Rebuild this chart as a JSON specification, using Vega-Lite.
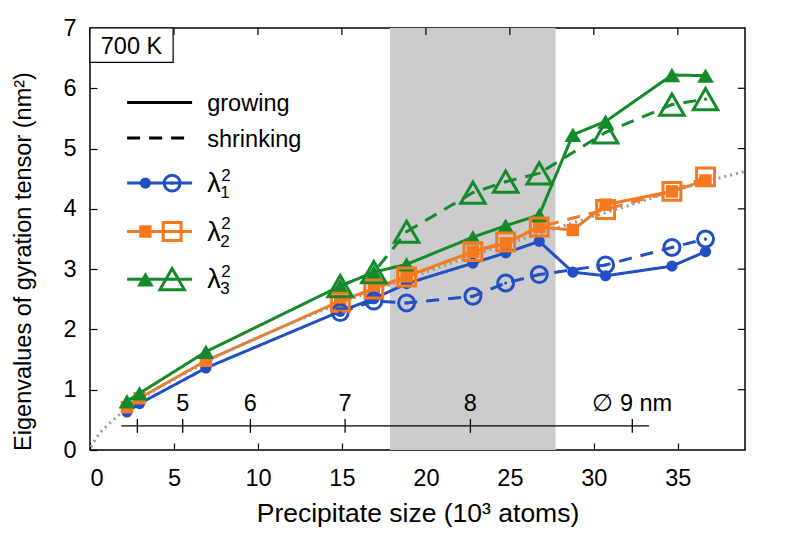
{
  "$schema": "https://vega.github.io/schema/vega-lite/v6.json",
  "width": 655,
  "height": 422,
  "autosize": {"type": "none"},
  "padding": {"left": 90, "top": 28, "right": 44, "bottom": 102},
  "background": "white",
  "config": {
    "font": "Liberation Sans",
    "view": {"stroke": "#000", "strokeWidth": 1.5},
    "axis": {
      "grid": false, "domain": false, "tickColor": "#000", "tickWidth": 1.2, "tickSize": -7, "zindex": 1,
      "labelFontSize": 23.5, "labelColor": "#000", "labelFont": "Liberation Sans",
      "titleFontSize": 23.5, "titleFontWeight": "normal", "titleColor": "#000", "titleFont": "Liberation Sans"
    },
    "text": {"font": "Liberation Sans", "fontSize": 23.5, "color": "#000"}
  },
  "datasets": {
    "series": [
      {"ph": "growing", "ev": "l1", "n": 2.2, "v": 0.63},
      {"ph": "growing", "ev": "l1", "n": 2.95, "v": 0.77},
      {"ph": "growing", "ev": "l1", "n": 6.9, "v": 1.36},
      {"ph": "growing", "ev": "l1", "n": 14.9, "v": 2.3},
      {"ph": "growing", "ev": "l1", "n": 16.9, "v": 2.51},
      {"ph": "growing", "ev": "l1", "n": 18.85, "v": 2.76},
      {"ph": "growing", "ev": "l1", "n": 22.8, "v": 3.1},
      {"ph": "growing", "ev": "l1", "n": 24.75, "v": 3.27},
      {"ph": "growing", "ev": "l1", "n": 26.75, "v": 3.46},
      {"ph": "growing", "ev": "l1", "n": 28.75, "v": 2.95},
      {"ph": "growing", "ev": "l1", "n": 30.7, "v": 2.89},
      {"ph": "growing", "ev": "l1", "n": 34.65, "v": 3.05},
      {"ph": "growing", "ev": "l1", "n": 36.65, "v": 3.29},
      {"ph": "growing", "ev": "l2", "n": 2.2, "v": 0.71},
      {"ph": "growing", "ev": "l2", "n": 2.95, "v": 0.86},
      {"ph": "growing", "ev": "l2", "n": 6.9, "v": 1.48},
      {"ph": "growing", "ev": "l2", "n": 14.9, "v": 2.47},
      {"ph": "growing", "ev": "l2", "n": 16.9, "v": 2.68},
      {"ph": "growing", "ev": "l2", "n": 18.85, "v": 2.88},
      {"ph": "growing", "ev": "l2", "n": 22.8, "v": 3.29},
      {"ph": "growing", "ev": "l2", "n": 24.75, "v": 3.43},
      {"ph": "growing", "ev": "l2", "n": 26.75, "v": 3.7},
      {"ph": "growing", "ev": "l2", "n": 28.75, "v": 3.65},
      {"ph": "growing", "ev": "l2", "n": 30.7, "v": 4.07},
      {"ph": "growing", "ev": "l2", "n": 34.65, "v": 4.29},
      {"ph": "growing", "ev": "l2", "n": 36.65, "v": 4.47},
      {"ph": "growing", "ev": "l3", "n": 2.2, "v": 0.81},
      {"ph": "growing", "ev": "l3", "n": 2.95, "v": 0.94},
      {"ph": "growing", "ev": "l3", "n": 6.9, "v": 1.63},
      {"ph": "growing", "ev": "l3", "n": 14.9, "v": 2.72},
      {"ph": "growing", "ev": "l3", "n": 16.9, "v": 2.95},
      {"ph": "growing", "ev": "l3", "n": 18.85, "v": 3.08},
      {"ph": "growing", "ev": "l3", "n": 22.8, "v": 3.53},
      {"ph": "growing", "ev": "l3", "n": 24.75, "v": 3.72},
      {"ph": "growing", "ev": "l3", "n": 26.75, "v": 3.9},
      {"ph": "growing", "ev": "l3", "n": 28.75, "v": 5.23},
      {"ph": "growing", "ev": "l3", "n": 30.7, "v": 5.45},
      {"ph": "growing", "ev": "l3", "n": 34.65, "v": 6.22},
      {"ph": "growing", "ev": "l3", "n": 36.65, "v": 6.21},
      {"ph": "shrinking", "ev": "l1", "n": 14.9, "v": 2.28},
      {"ph": "shrinking", "ev": "l1", "n": 16.9, "v": 2.47},
      {"ph": "shrinking", "ev": "l1", "n": 18.85, "v": 2.44},
      {"ph": "shrinking", "ev": "l1", "n": 22.8, "v": 2.55},
      {"ph": "shrinking", "ev": "l1", "n": 24.75, "v": 2.77},
      {"ph": "shrinking", "ev": "l1", "n": 26.75, "v": 2.91},
      {"ph": "shrinking", "ev": "l1", "n": 30.7, "v": 3.07},
      {"ph": "shrinking", "ev": "l1", "n": 34.65, "v": 3.36},
      {"ph": "shrinking", "ev": "l1", "n": 36.65, "v": 3.5},
      {"ph": "shrinking", "ev": "l2", "n": 14.9, "v": 2.45},
      {"ph": "shrinking", "ev": "l2", "n": 16.9, "v": 2.67},
      {"ph": "shrinking", "ev": "l2", "n": 18.85, "v": 2.87},
      {"ph": "shrinking", "ev": "l2", "n": 22.8, "v": 3.29},
      {"ph": "shrinking", "ev": "l2", "n": 24.75, "v": 3.45},
      {"ph": "shrinking", "ev": "l2", "n": 26.75, "v": 3.7},
      {"ph": "shrinking", "ev": "l2", "n": 30.7, "v": 3.99},
      {"ph": "shrinking", "ev": "l2", "n": 34.65, "v": 4.29},
      {"ph": "shrinking", "ev": "l2", "n": 36.65, "v": 4.53},
      {"ph": "shrinking", "ev": "l3", "n": 14.9, "v": 2.72},
      {"ph": "shrinking", "ev": "l3", "n": 16.9, "v": 2.95},
      {"ph": "shrinking", "ev": "l3", "n": 18.85, "v": 3.62},
      {"ph": "shrinking", "ev": "l3", "n": 22.8, "v": 4.27},
      {"ph": "shrinking", "ev": "l3", "n": 24.75, "v": 4.45},
      {"ph": "shrinking", "ev": "l3", "n": 26.75, "v": 4.59},
      {"ph": "shrinking", "ev": "l3", "n": 30.7, "v": 5.27},
      {"ph": "shrinking", "ev": "l3", "n": 34.65, "v": 5.73},
      {"ph": "shrinking", "ev": "l3", "n": 36.65, "v": 5.82}
    ],
    "fit": [
      {"n": 0.05, "v": 0.05}, {"n": 0.5, "v": 0.25}, {"n": 1, "v": 0.4}, {"n": 2, "v": 0.64},
      {"n": 3, "v": 0.84}, {"n": 5, "v": 1.17}, {"n": 7, "v": 1.47}, {"n": 10, "v": 1.87},
      {"n": 13, "v": 2.22}, {"n": 16, "v": 2.55}, {"n": 20, "v": 2.95}, {"n": 24, "v": 3.34},
      {"n": 28, "v": 3.7}, {"n": 32, "v": 4.05}, {"n": 36, "v": 4.4}, {"n": 39, "v": 4.62}
    ],
    "dia": [
      {"label": "", "n": 2.82}, {"label": "5", "n": 5.52}, {"label": "6", "n": 9.55},
      {"label": "7", "n": 15.19}, {"label": "8", "n": 22.65}, {"label": "∅ 9 nm", "n": 32.29}
    ],
    "xt": [{"t": 0}, {"t": 5}, {"t": 10}, {"t": 15}, {"t": 20}, {"t": 25}, {"t": 30}, {"t": 35}],
    "yt": [{"t": 1}, {"t": 2}, {"t": 3}, {"t": 4}, {"t": 5}, {"t": 6}],
    "leg": [{"ev": "l1", "s": "1", "ly": 4.427}, {"ev": "l2", "s": "2", "ly": 3.624}, {"ev": "l3", "s": "3", "ly": 2.834}]
  },
  "layer": [
    {
      "data": {"values": [{"start": 17.86, "end": 27.72}]},
      "mark": {"type": "rect", "fill": "#cccccc"},
      "encoding": {
        "x": {"field": "start", "type": "quantitative",
          "scale": {"domain": [0, 39], "nice": false, "zero": false},
          "axis": {"title": "Precipitate size (10³ atoms)", "titleFontSize": 26.5, "values": [0, 5, 10, 15, 20, 25, 30, 35], "labelPadding": 23, "titlePadding": 11}},
        "x2": {"field": "end"},
        "y": {"datum": 0, "type": "quantitative",
          "scale": {"domain": [0, 7], "nice": false},
          "axis": {"title": "Eigenvalues of gyration tensor (nm²)", "format": "d", "values": [0, 1, 2, 3, 4, 5, 6, 7], "labelPadding": 21, "titlePadding": 27, "titleY": 233}},
        "y2": {"datum": 7}
      }
    },
    {
      "data": {"name": "xt"},
      "mark": {"type": "rule", "color": "#000", "strokeWidth": 1.2},
      "encoding": {"x": {"field": "t", "type": "quantitative"}, "y": {"datum": 7, "type": "quantitative"}, "y2": {"datum": 6.884}}
    },
    {
      "data": {"name": "yt"},
      "mark": {"type": "rule", "color": "#000", "strokeWidth": 1.2},
      "encoding": {"y": {"field": "t", "type": "quantitative"}, "x": {"datum": 39, "type": "quantitative"}, "x2": {"datum": 38.58}}
    },
    {
      "data": {"name": "series"},
      "mark": {"type": "line", "strokeWidth": 3},
      "encoding": {
        "x": {"field": "n", "type": "quantitative"},
        "y": {"field": "v", "type": "quantitative"},
        "color": {"field": "ev", "type": "nominal", "scale": {"domain": ["l1", "l2", "l3"], "range": ["#2050c4", "#f7791f", "#158a2b"]}, "legend": null},
        "strokeDash": {"field": "ph", "type": "nominal", "scale": {"domain": ["growing", "shrinking"], "range": [[1, 0], [13, 9]]}, "legend": null}
      }
    },
    {
      "data": {"name": "fit"},
      "mark": {"type": "line", "strokeWidth": 3, "color": "#999999", "strokeDash": [2, 4], "interpolate": "monotone"},
      "encoding": {
        "x": {"field": "n", "type": "quantitative"},
        "y": {"field": "v", "type": "quantitative"}
      }
    },
    {
      "data": {"name": "series"},
      "transform": [{"filter": "datum.ph === 'growing' && datum.ev === 'l1'"}],
      "mark": {"type": "point", "shape": "circle", "filled": true, "size": 125, "color": "#2050c4", "opacity": 1},
      "encoding": {"x": {"field": "n", "type": "quantitative"}, "y": {"field": "v", "type": "quantitative"}}
    },
    {
      "data": {"name": "series"},
      "transform": [{"filter": "datum.ph === 'growing' && datum.ev === 'l2'"}],
      "mark": {"type": "point", "shape": "square", "filled": true, "size": 155, "color": "#f7791f", "opacity": 1},
      "encoding": {"x": {"field": "n", "type": "quantitative"}, "y": {"field": "v", "type": "quantitative"}}
    },
    {
      "data": {"name": "series"},
      "transform": [{"filter": "datum.ph === 'growing' && datum.ev === 'l3'"}],
      "mark": {"type": "point", "shape": "triangle-up", "filled": true, "size": 280, "color": "#158a2b", "opacity": 1},
      "encoding": {"x": {"field": "n", "type": "quantitative"}, "y": {"field": "v", "type": "quantitative"}}
    },
    {
      "data": {"name": "series"},
      "transform": [{"filter": "datum.ph === 'shrinking' && datum.ev === 'l1'"}],
      "mark": {"type": "point", "shape": "circle", "filled": false, "strokeWidth": 3, "size": 255, "color": "#2050c4", "opacity": 1},
      "encoding": {"x": {"field": "n", "type": "quantitative"}, "y": {"field": "v", "type": "quantitative"}}
    },
    {
      "data": {"name": "series"},
      "transform": [{"filter": "datum.ph === 'shrinking' && datum.ev === 'l2'"}],
      "mark": {"type": "point", "shape": "square", "filled": false, "strokeWidth": 3, "size": 320, "color": "#f7791f", "opacity": 1},
      "encoding": {"x": {"field": "n", "type": "quantitative"}, "y": {"field": "v", "type": "quantitative"}}
    },
    {
      "data": {"name": "series"},
      "transform": [{"filter": "datum.ph === 'shrinking' && datum.ev === 'l3'"}],
      "mark": {"type": "point", "shape": "triangle-up", "filled": false, "strokeWidth": 3, "size": 600, "color": "#158a2b", "opacity": 1},
      "encoding": {"x": {"field": "n", "type": "quantitative"}, "y": {"field": "v", "type": "quantitative"}}
    },
    {
      "data": {"name": "series"},
      "transform": [{"filter": "datum.ph === 'shrinking'"}],
      "mark": {"type": "circle", "size": 10, "opacity": 1},
      "encoding": {
        "x": {"field": "n", "type": "quantitative"},
        "y": {"field": "v", "type": "quantitative"},
        "color": {"field": "ev", "type": "nominal", "legend": null}
      }
    },
    {
      "data": {"values": [{}]},
      "mark": {"type": "rule", "color": "#000", "strokeWidth": 1.3},
      "encoding": {"x": {"datum": 1.86, "type": "quantitative"}, "x2": {"datum": 33.29}, "y": {"datum": 0.4, "type": "quantitative"}}
    },
    {
      "data": {"name": "dia"},
      "mark": {"type": "rule", "color": "#000", "strokeWidth": 1.3},
      "encoding": {"x": {"field": "n", "type": "quantitative"}, "y": {"datum": 0.285, "type": "quantitative"}, "y2": {"datum": 0.515}}
    },
    {
      "data": {"name": "dia"},
      "mark": {"type": "text", "baseline": "alphabetic", "align": "center"},
      "encoding": {"x": {"field": "n", "type": "quantitative"}, "y": {"datum": 0.64, "type": "quantitative"}, "text": {"field": "label"}}
    },
    {
      "data": {"values": [{}]},
      "mark": {"type": "rect", "fill": "white", "stroke": "#000", "strokeWidth": 1.2},
      "encoding": {"x": {"datum": 0, "type": "quantitative"}, "x2": {"datum": 4.95}, "y": {"datum": 6.43, "type": "quantitative"}, "y2": {"datum": 7}}
    },
    {
      "data": {"values": [{}]},
      "mark": {"type": "text", "align": "center", "baseline": "alphabetic", "dy": 8.5, "text": "700 K"},
      "encoding": {"x": {"datum": 2.47, "type": "quantitative"}, "y": {"datum": 6.715, "type": "quantitative"}}
    },
    {
      "data": {"values": [{}]},
      "mark": {"type": "rule", "color": "#000", "strokeWidth": 3},
      "encoding": {"x": {"datum": 2.21, "type": "quantitative"}, "x2": {"datum": 6.08}, "y": {"datum": 5.765, "type": "quantitative"}}
    },
    {
      "data": {"values": [{}]},
      "mark": {"type": "rule", "color": "#000", "strokeWidth": 3, "strokeDash": [13, 9]},
      "encoding": {"x": {"datum": 2.21, "type": "quantitative"}, "x2": {"datum": 6.08}, "y": {"datum": 5.174, "type": "quantitative"}}
    },
    {
      "data": {"values": [{}]},
      "mark": {"type": "text", "align": "left", "baseline": "alphabetic", "dy": 8.5, "text": "growing"},
      "encoding": {"x": {"datum": 6.98, "type": "quantitative"}, "y": {"datum": 5.765, "type": "quantitative"}}
    },
    {
      "data": {"values": [{}]},
      "mark": {"type": "text", "align": "left", "baseline": "alphabetic", "dy": 8.5, "text": "shrinking"},
      "encoding": {"x": {"datum": 6.98, "type": "quantitative"}, "y": {"datum": 5.174, "type": "quantitative"}}
    },
    {
      "data": {"name": "leg"},
      "mark": {"type": "rule", "strokeWidth": 3},
      "encoding": {"x": {"datum": 2.21, "type": "quantitative"}, "x2": {"datum": 6.08}, "y": {"field": "ly", "type": "quantitative"}, "color": {"field": "ev", "type": "nominal", "legend": null}}
    },
    {
      "data": {"name": "leg"},
      "transform": [{"filter": "datum.ev === 'l1'"}],
      "mark": {"type": "point", "shape": "circle", "filled": true, "size": 125, "color": "#2050c4", "opacity": 1},
      "encoding": {"x": {"datum": 3.3, "type": "quantitative"}, "y": {"field": "ly", "type": "quantitative"}}
    },
    {
      "data": {"name": "leg"},
      "transform": [{"filter": "datum.ev === 'l2'"}],
      "mark": {"type": "point", "shape": "square", "filled": true, "size": 155, "color": "#f7791f", "opacity": 1},
      "encoding": {"x": {"datum": 3.3, "type": "quantitative"}, "y": {"field": "ly", "type": "quantitative"}}
    },
    {
      "data": {"name": "leg"},
      "transform": [{"filter": "datum.ev === 'l3'"}],
      "mark": {"type": "point", "shape": "triangle-up", "filled": true, "size": 280, "color": "#158a2b", "opacity": 1},
      "encoding": {"x": {"datum": 3.3, "type": "quantitative"}, "y": {"field": "ly", "type": "quantitative"}}
    },
    {
      "data": {"name": "leg"},
      "transform": [{"filter": "datum.ev === 'l1'"}],
      "mark": {"type": "point", "shape": "circle", "filled": false, "strokeWidth": 3, "size": 255, "color": "#2050c4", "opacity": 1},
      "encoding": {"x": {"datum": 4.89, "type": "quantitative"}, "y": {"field": "ly", "type": "quantitative"}}
    },
    {
      "data": {"name": "leg"},
      "transform": [{"filter": "datum.ev === 'l2'"}],
      "mark": {"type": "point", "shape": "square", "filled": false, "strokeWidth": 3, "size": 320, "color": "#f7791f", "opacity": 1},
      "encoding": {"x": {"datum": 4.89, "type": "quantitative"}, "y": {"field": "ly", "type": "quantitative"}}
    },
    {
      "data": {"name": "leg"},
      "transform": [{"filter": "datum.ev === 'l3'"}],
      "mark": {"type": "point", "shape": "triangle-up", "filled": false, "strokeWidth": 3, "size": 600, "color": "#158a2b", "opacity": 1},
      "encoding": {"x": {"datum": 4.89, "type": "quantitative"}, "y": {"field": "ly", "type": "quantitative"}}
    },
    {
      "data": {"name": "leg"},
      "mark": {"type": "circle", "size": 10, "opacity": 1},
      "encoding": {"x": {"datum": 4.89, "type": "quantitative"}, "y": {"field": "ly", "type": "quantitative"}, "color": {"field": "ev", "type": "nominal", "legend": null}}
    },
    {
      "data": {"name": "leg"},
      "mark": {"type": "text", "align": "left", "baseline": "alphabetic", "dy": 9, "fontSize": 27, "text": "λ"},
      "encoding": {"x": {"datum": 6.98, "type": "quantitative"}, "y": {"field": "ly", "type": "quantitative"}}
    },
    {
      "data": {"name": "leg"},
      "mark": {"type": "text", "align": "left", "baseline": "alphabetic", "dy": -2.6, "dx": 14, "fontSize": 17, "text": "2"},
      "encoding": {"x": {"datum": 6.98, "type": "quantitative"}, "y": {"field": "ly", "type": "quantitative"}}
    },
    {
      "data": {"name": "leg"},
      "mark": {"type": "text", "align": "left", "baseline": "alphabetic", "dy": 15, "dx": 13, "fontSize": 17},
      "encoding": {"x": {"datum": 6.98, "type": "quantitative"}, "y": {"field": "ly", "type": "quantitative"}, "text": {"field": "s"}}
    }
  ]
}
